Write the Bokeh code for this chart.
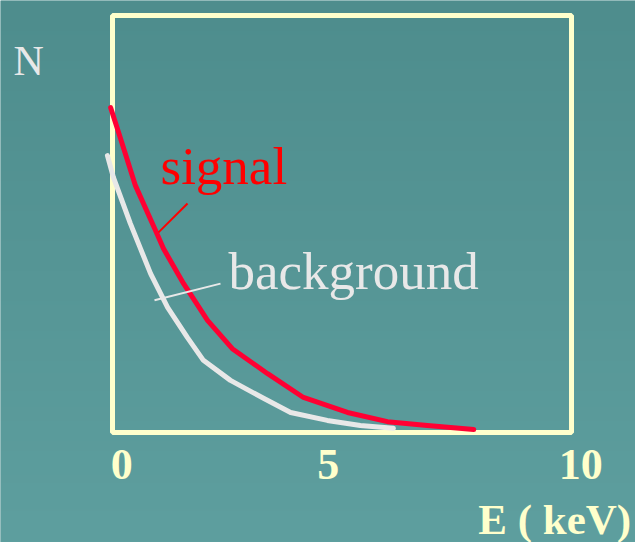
import numpy as np
from bokeh.plotting import figure
from bokeh.models import Range1d
from bokeh.core.properties import value
from bokeh.embed import file_html
from bokeh.resources import INLINE

# Energy spectra (arbitrary units): E in keV, N normalised to the frame height
signal_E = [-0.04, 0.17, 0.50, 0.94, 1.11, 1.55, 2.07, 2.61, 3.38, 4.16, 5.12, 5.99, 6.86, 7.87]
signal_N = [0.779, 0.707, 0.592, 0.484, 0.441, 0.357, 0.269, 0.201, 0.141, 0.084, 0.048, 0.026, 0.017, 0.007]

background_E = [-0.11, 0.02, 0.39, 0.61, 0.83, 1.20, 1.63, 1.98, 2.57, 3.29, 3.88, 4.68, 5.40, 6.12]
background_N = [0.664, 0.612, 0.501, 0.441, 0.381, 0.300, 0.228, 0.173, 0.125, 0.082, 0.048, 0.029, 0.017, 0.010]

tick_labels = ["0", "5", "10"]
tick_E = [0.2, 4.7, 10.2]

E_limits = [0, 10]
N_limits = [0, 1]

BG_TOP = (78, 141, 141)
BG_BOTTOM = (94, 159, 159)
FRAME = "#FFFFCC"
RED_LINE = "#FF0033"
RED_TEXT = "#FF0000"
LIGHT = "#E8E8E8"
SERIF = value("Liberation Serif")

x_range = Range1d(-2.44, 11.394)
y_range = Range1d(-0.2638, 1.036)

p = figure(width=635, height=542, x_range=x_range, y_range=y_range,
           x_axis_type=None, y_axis_type=None, toolbar_location=None,
           output_backend="svg", min_border=0, outline_line_color=None,
           background_fill_color="#569696", border_fill_color="#569696")
p.grid.visible = False

# vertical teal gradient behind everything
rows = 271
t = np.linspace(0, 1, rows)[:, None]
top = np.array(BG_TOP)[None, :]
bot = np.array(BG_BOTTOM)[None, :]
cols = (bot * (1 - t) + top * t).astype(np.uint32)  # row 0 at bottom
img = (255 << 24) | (cols[:, 2] << 16) | (cols[:, 1] << 8) | cols[:, 0]
img = img.reshape(rows, 1).astype(np.uint32)
p.image_rgba(image=[img], x=x_range.start, y=y_range.start,
             dw=x_range.end - x_range.start, dh=y_range.end - y_range.start,
             level="image")

# plot frame
p.quad(left=[E_limits[0]], right=[E_limits[1]], bottom=[N_limits[0]], top=[N_limits[1]],
       fill_color=None, line_color=FRAME, line_width=5)

# spectra
p.line(background_E, background_N, line_color=LIGHT, line_width=5,
       line_cap="round", line_join="round")
p.line(signal_E, signal_N, line_color=RED_LINE, line_width=5,
       line_cap="round", line_join="round")

# leader lines for the labels
p.segment(x0=[1.635], y0=[0.549], x1=[1.002], y1=[0.480], line_color=RED_TEXT, line_width=2)
p.segment(x0=[2.353], y0=[0.357], x1=[0.915], y1=[0.317], line_color=LIGHT, line_width=2)

# curve labels
p.text(x=[1.046], y=[0.640], text=["signal"], text_color=RED_TEXT,
       text_font=SERIF, text_font_size="53px", text_baseline="alphabetic")
p.text(x=[2.527], y=[0.388], text=["background"], text_color=LIGHT,
       text_font=SERIF, text_font_size="53px", text_baseline="alphabetic")

# axis texts
p.text(x=[-2.157], y=[0.892], text=["N"], text_color=LIGHT,
       text_font=SERIF, text_font_size="42px", text_baseline="alphabetic")
p.text(x=tick_E, y=[-0.077] * len(tick_E), text=tick_labels, text_color=FRAME,
       text_font=SERIF, text_font_style="bold", text_font_size="44px",
       text_align="center", text_baseline="alphabetic")
p.text(x=[11.30], y=[-0.209], text=["E ( keV)"], text_color=FRAME,
       text_font=SERIF, text_font_style="bold", text_font_size="43px",
       text_align="right", text_baseline="alphabetic")

open("out.html", "w").write(file_html(p, INLINE))
